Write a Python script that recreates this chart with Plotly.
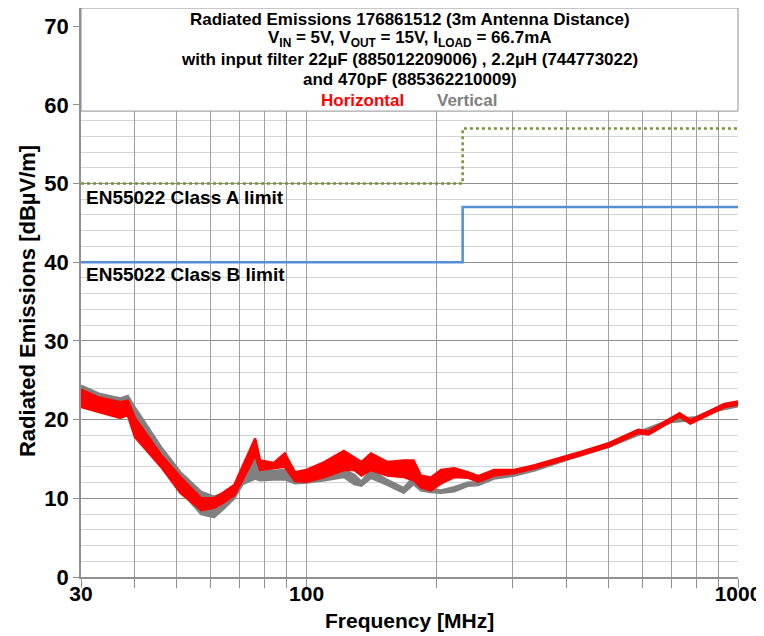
import plotly.graph_objects as go

# ---- data ----
freq_v = [30, 33, 37, 38.5, 40, 46, 51, 57, 61, 64, 68, 71, 76, 78, 84, 89, 94, 100, 110, 122,
          129, 134, 141, 154, 168, 177, 184, 194, 205, 220, 237, 250, 272, 303, 340, 400,
          500, 600, 700, 800, 900, 1000]
vert_hi = [24.3, 23.3, 22.7, 23.0, 21.5, 16.5, 13.3, 10.8, 10.2, 10.6, 11.6, 13.2, 15.1, 13.6,
           13.5, 13.6, 13.0, 13.0, 13.0, 13.6, 13.0, 12.1, 13.6, 12.3, 11.3, 12.7, 11.4, 11.2,
           11.0, 11.4, 12.0, 12.0, 12.9, 13.2, 13.9, 15.2, 16.8, 18.6, 20.0, 20.3, 21.5, 22.0]
vert_lo = [22.0, 21.2, 20.5, 20.5, 19.0, 14.2, 11.0, 8.0, 7.6, 8.6, 10.0, 11.8, 12.5, 12.3,
           12.4, 12.4, 11.9, 12.0, 12.3, 12.7, 11.8, 11.6, 12.6, 11.7, 10.7, 11.8, 11.0, 10.8,
           10.7, 10.9, 11.6, 11.7, 12.5, 12.9, 13.6, 14.9, 16.5, 18.3, 19.7, 20.0, 21.2, 21.7]

freq_h = [30, 33, 37, 38.5, 40, 46, 51, 57, 61, 64, 68, 71, 76, 78, 84, 89, 94, 100, 110, 122,
          129, 134, 141, 154, 168, 177, 184, 194, 205, 220, 237, 250, 272, 303, 338, 376, 432,
          502, 587, 620, 665, 732, 775, 836, 930, 1000]
horiz_hi = [23.8, 22.8, 22.2, 22.4, 20.2, 15.5, 12.7, 10.0, 10.0, 10.7, 11.7, 14.0, 17.6, 14.8,
            14.5, 15.7, 13.3, 13.6, 14.6, 16.0, 15.1, 14.6, 15.7, 14.6, 14.8, 14.8, 12.9, 12.6,
            13.6, 13.8, 13.3, 12.8, 13.6, 13.6, 14.2, 14.9, 15.9, 17.0, 18.7, 18.5, 19.5, 20.8,
            19.9, 20.8, 22.0, 22.3]
horiz_lo = [21.6, 21.0, 20.2, 20.6, 17.8, 14.0, 10.7, 8.5, 8.8, 9.4, 10.4, 12.3, 15.5, 13.6,
            13.8, 14.0, 12.2, 12.1, 12.7, 13.6, 13.6, 12.9, 13.6, 12.9, 12.7, 12.3, 11.4, 11.0,
            11.9, 12.7, 12.6, 12.1, 12.9, 13.2, 13.8, 14.5, 15.5, 16.6, 18.3, 18.1, 19.1, 20.4,
            19.5, 20.4, 21.6, 21.9]

limit_freq = [30, 230, 1000]
class_a = [50, 57, 57]
class_b = [40, 47, 47]

x_grid = [30, 40, 50, 60, 70, 80, 90, 100, 200, 300, 400, 500, 600, 700, 800, 900, 1000]
x_labels = {30: "30", 100: "100", 1000: "1000"}

RED = "#FF0000"
GRAY = "#808080"
BLUE = "#558ED5"
GREEN = "#77933C"
FONT = "Liberation Sans"

fig = go.Figure()

def band(f, lo, hi, color, name):
    fig.add_trace(go.Scatter(x=f, y=lo, mode="lines", line=dict(color=color, width=2.5),
                             showlegend=False, hoverinfo="skip"))
    fig.add_trace(go.Scatter(x=f, y=hi, mode="lines", line=dict(color=color, width=2.5),
                             fill="tonexty", fillcolor=color, name=name,
                             showlegend=False, hoverinfo="skip"))

band(freq_v, vert_lo, vert_hi, GRAY, "Vertical")
band(freq_h, horiz_lo, horiz_hi, RED, "Horizontal")

fig.add_trace(go.Scatter(x=limit_freq, y=class_b, mode="lines", line_shape="hv",
                         line=dict(color=BLUE, width=2.5), showlegend=False, hoverinfo="skip"))
fig.add_trace(go.Scatter(x=limit_freq, y=class_a, mode="lines", line_shape="hv",
                         line=dict(color=GREEN, width=2.5, dash="dot"), showlegend=False,
                         hoverinfo="skip"))

YMAX = 72.3

# title box
fig.add_shape(type="rect", xref="paper", yref="y", x0=0, x1=1, y0=59.2, y1=YMAX,
              fillcolor="white", line=dict(color="#909090", width=1), layer="above")

title_lines = [
    "Radiated Emissions 176861512 (3m Antenna Distance)",
    "V<sub>IN</sub> = 5V, V<sub>OUT</sub> = 15V, I<sub>LOAD</sub> = 66.7mA",
    "with input filter 22µF (885012209006) , 2.2µH (744773022)",
    "and 470pF (885362210009)",
]
title_y = [70.9, 68.3, 65.7, 63.2]
for t, yy in zip(title_lines, title_y):
    fig.add_annotation(text=t, xref="paper", yref="y", x=0.5, y=yy, showarrow=False,
                       font=dict(family=FONT, size=17, color="black", weight="bold"))

fig.add_annotation(text="Horizontal", xref="paper", yref="y", x=0.428, y=60.6, showarrow=False,
                   font=dict(family=FONT, size=17, color=RED, weight="bold"))
fig.add_annotation(text="Vertical", xref="paper", yref="y", x=0.589, y=60.6, showarrow=False,
                   font=dict(family=FONT, size=17, color=GRAY, weight="bold"))

fig.add_annotation(text="EN55022 Class A limit", x=0.0, xref="paper", xanchor="left",
                   xshift=3, y=48.2, yref="y", showarrow=False,
                   font=dict(family=FONT, size=19, color="black", weight="bold"))
fig.add_annotation(text="EN55022 Class B limit", x=0.0, xref="paper", xanchor="left",
                   xshift=3, y=38.4, yref="y", showarrow=False,
                   font=dict(family=FONT, size=19, color="black", weight="bold"))

# axis titles placed precisely
fig.add_annotation(text="Frequency [MHz]", xref="paper", yref="paper", x=0.5, y=0,
                   yanchor="middle", yshift=-43, showarrow=False,
                   font=dict(family=FONT, size=21, color="black", weight="bold"))
fig.add_annotation(text="Radiated Emissions [dBµV/m]", xref="paper", yref="paper", x=0,
                   y=0.485, xanchor="center", xshift=-54, textangle=-90, showarrow=False,
                   font=dict(family=FONT, size=22, color="black", weight="bold"))

fig.update_xaxes(type="log", range=[1.4771, 3.0], tickmode="array", tickvals=x_grid,
                 ticktext=[x_labels.get(v, "") for v in x_grid],
                 showgrid=True, gridcolor="#a0a0a0", gridwidth=1,
                 ticks="outside", ticklen=9, tickcolor="#909090",
                 ticklabelstandoff=-12,
                 showline=True, linecolor="#909090", linewidth=1.5,
                 tickfont=dict(family=FONT, size=21, color="black", weight="bold"),
                 automargin=False, zeroline=False)
fig.update_yaxes(range=[0, YMAX], dtick=10, tick0=0, showgrid=True, gridcolor="#909090",
                 gridwidth=1, ticks="outside", ticklen=6, tickcolor="#909090",
                 showline=True, linecolor="#909090", linewidth=1.5,
                 minor=dict(dtick=2, showgrid=True, gridcolor="#d4d4d4", gridwidth=1),
                 tickfont=dict(family=FONT, size=22, color="black", weight="bold"),
                 automargin=False, zeroline=False)

# page body adds an 8px offset; margins compensate so the plot sits at x 81-738, y 8-577
fig.update_layout(width=764, height=636, margin=dict(l=73, r=34, t=0, b=67),
                  plot_bgcolor="white", paper_bgcolor="white", showlegend=False)

fig.write_html("out.html")
